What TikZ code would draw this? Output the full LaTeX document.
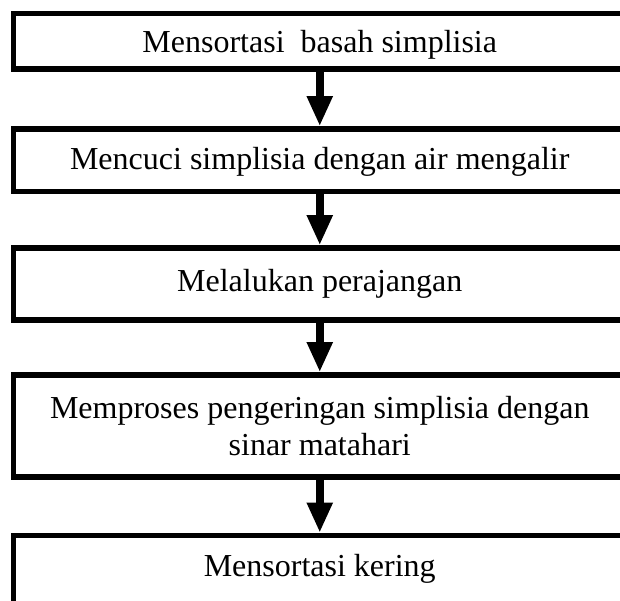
\documentclass[tikz,border=0pt]{standalone}
\usepackage{fontspec}
\setmainfont{Liberation Serif}
\usetikzlibrary{arrows.meta}
\begin{document}
\begin{tikzpicture}[x=1pt,y=1pt,
  box/.style={draw=black, line width=5.5pt, rectangle, minimum width=612.5pt,
    inner sep=0pt, align=center, font=\fontsize{32}{37}\selectfont},
  arr/.style={line width=8pt, -{Triangle[width=24pt,length=30pt]}}]
\useasboundingbox (0,0) rectangle (620,601);
\clip (0,0) rectangle (620,601);
\node[box, anchor=north, text height=39.5pt, text depth=16pt] (b1) at (319.75,590.25) {Mensortasi\ \ basah simplisia};
\node[box, anchor=north, text height=41pt, text depth=21.5pt] (b2) at (319.75,474.75) {Mencuci simplisia dengan air mengalir};
\node[box, minimum height=72pt] (b3) at (319.75,317) {Melalukan perajangan};
\node[box, minimum height=102pt] (b4) at (319.75,175) {Memproses pengeringan simplisia dengan\\sinar matahari};
\node[box, anchor=north, text height=41.5pt, text depth=48pt] (b5) at (319.75,68.25) {Mensortasi kering};
\draw[arr] (b1.south) -- (b2.north);
\draw[arr] (b2.south) -- (b3.north);
\draw[arr] (b3.south) -- (b4.north);
\draw[arr] (b4.south) -- (b5.north);
\end{tikzpicture}
\end{document}
